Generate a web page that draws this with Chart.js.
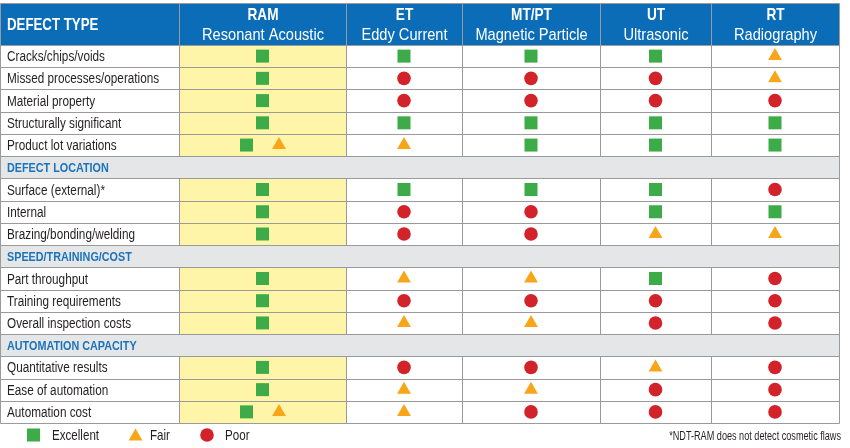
<!DOCTYPE html>
<html>
<head>
<meta charset="utf-8">
<script src="https://cdn.jsdelivr.net/npm/chart.js@4/dist/chart.umd.min.js"></script>
<style>
  body { margin: 0; background: #fff; }
  #wrap { width: 850px; height: 448px; }
</style>
</head>
<body>
<div id="wrap"><canvas id="myChart" width="850" height="448"></canvas></div>
<script>
// rows of the table (section headers included)
const rowLabels = ['Cracks/chips/voids', 'Missed processes/operations', 'Material property',
    'Structurally significant', 'Product lot variations', 'DEFECT LOCATION',
    'Surface (external)*', 'Internal', 'Brazing/bonding/welding', 'SPEED/TRAINING/COST',
    'Part throughput', 'Training requirements', 'Overall inspection costs',
    'AUTOMATION CAPACITY', 'Quantitative results', 'Ease of automation', 'Automation cost'];
const sectionRows = [5, 9, 13];
const headTitle = 'DEFECT TYPE';

const methods = ['RAM', 'ET', 'MT/PT', 'UT', 'RT'];
const methodNames = ['Resonant Acoustic', 'Eddy Current', 'Magnetic Particle', 'Ultrasonic', 'Radiography'];

// E = excellent, F = fair, P = poor, null = section row
const ram = ['E', 'E', 'E', 'E', 'EF', null, 'E', 'E', 'E', null, 'E', 'E', 'E', null, 'E', 'E', 'EF'];
const et  = ['E', 'P', 'P', 'E', 'F',  null, 'E', 'P', 'P', null, 'F', 'P', 'F', null, 'P', 'F', 'F'];
const mt  = ['E', 'P', 'P', 'E', 'E',  null, 'E', 'P', 'P', null, 'F', 'P', 'F', null, 'P', 'F', 'P'];
const ut  = ['E', 'P', 'P', 'E', 'E',  null, 'E', 'E', 'F', null, 'E', 'P', 'P', null, 'F', 'P', 'P'];
const rt  = ['F', 'F', 'P', 'E', 'E',  null, 'P', 'E', 'F', null, 'P', 'P', 'P', null, 'P', 'P', 'P'];
const ratings = [ram, et, mt, ut, rt];

const legendLabels = ['Excellent', 'Fair', 'Poor'];
const footnote = '*NDT-RAM does not detect cosmetic flaws';

// layout
const colWidths = [179, 167, 116, 138, 111, 128];
const colEdges = [0];
colWidths.forEach(w => colEdges.push(colEdges[colEdges.length - 1] + w));
const colCenter = i => (colEdges[i + 1] + colEdges[i + 2]) / 2;

const GREEN = '#3dab47', ORANGE = '#f9a51a', RED = '#d2232a';
const BLUE = '#0b6db7', TXT = '#231f20';
const FONT = "'Liberation Sans', Arial, sans-serif";

const pts = {E: [], F: [], P: []};
ratings.forEach((col, m) => {
    col.forEach((code, r) => {
        if (!code) return;
        const offs = code.length > 1 ? [-16, 16.5] : [0];
        code.split('').forEach((c, k) => pts[c].push({x: colCenter(m) + offs[k], y: r}));
    });
});

// squeezed text so Liberation Sans looks like a condensed face
function text(ctx, str, x, y, font, align, color, sx = 0.8) {
    ctx.save();
    ctx.font = font;
    ctx.fillStyle = color;
    ctx.textAlign = align;
    ctx.textBaseline = 'middle';
    ctx.translate(x, y);
    ctx.scale(sx, 1);
    ctx.fillText(str, 0, 0);
    ctx.restore();
}

const tablePlugin = {
    id: 'table',
    beforeDatasetsDraw(chart) {
        const {ctx, chartArea: a, scales: {x, y}} = chart;
        const band = Math.abs(y.getPixelForValue(1) - y.getPixelForValue(0));
        const ex = colEdges.map(v => Math.round(x.getPixelForValue(v)) + 0.5);
        const rowTop = r => Math.round(y.getPixelForValue(r) - band / 2) + 0.5;
        const headTop = 3.5;
        ctx.save();
        // yellow RAM column
        ctx.fillStyle = '#fff5a8';
        ctx.fillRect(ex[1], a.top, ex[2] - ex[1], a.bottom - a.top);
        // section rows
        ctx.fillStyle = '#e5e6e8';
        sectionRows.forEach(r => ctx.fillRect(ex[0], rowTop(r), ex[6] - ex[0], rowTop(r + 1) - rowTop(r)));
        // header
        ctx.fillStyle = BLUE;
        ctx.fillRect(ex[0], headTop, ex[6] - ex[0], a.top - headTop);

        // grid lines
        ctx.strokeStyle = '#9a9a9a';
        ctx.lineWidth = 1;
        ctx.beginPath();
        for (let r = 0; r <= rowLabels.length; r++) {
            const yy = r === 0 ? Math.round(a.top) + 0.5 : rowTop(r);
            ctx.moveTo(ex[0], yy); ctx.lineTo(ex[6], yy);
        }
        ctx.moveTo(ex[0], headTop); ctx.lineTo(ex[6], headTop);
        ex.forEach((xx, i) => {
            ctx.moveTo(xx, headTop); ctx.lineTo(xx, Math.round(a.top) + 0.5);
            if (i === 0 || i === 6) { ctx.moveTo(xx, a.top); ctx.lineTo(xx, rowTop(rowLabels.length)); return; }
            let start = 0;
            sectionRows.concat([rowLabels.length]).forEach(s => {
                ctx.moveTo(xx, rowTop(start)); ctx.lineTo(xx, rowTop(s));
                start = s + 1;
            });
        });
        ctx.stroke();
        ctx.restore();

        // header text
        text(ctx, headTitle, 7, 25, 'bold 17px ' + FONT, 'left', '#fff', 0.78);
        methods.forEach((m, i) => {
            const cx = (ex[i + 1] + ex[i + 2]) / 2;
            text(ctx, m, cx, 15, 'bold 17px ' + FONT, 'center', '#fff');
            text(ctx, methodNames[i], cx, 35, '17px ' + FONT, 'center', '#fff', 0.86);
        });

        // row labels
        rowLabels.forEach((lab, r) => {
            const yy = y.getPixelForValue(r) + 1;
            if (sectionRows.includes(r)) {
                text(ctx, lab, 7, yy, 'bold 13.5px ' + FONT, 'left', '#1a73bb');
            } else {
                text(ctx, lab, 7, yy, '14.7px ' + FONT, 'left', TXT);
            }
        });

        // legend + footnote
        const ly = 435;
        const marks = [
            {style: 'rect', r: 9.2, color: GREEN, mx: 33.5, tx: 52},
            {style: 'triangle', r: 8, color: ORANGE, mx: 135.5, tx: 150},
            {style: 'circle', r: 6.8, color: RED, mx: 207, tx: 225}
        ];
        marks.forEach((mk, i) => {
            ctx.save();
            ctx.fillStyle = mk.color;
            ctx.strokeStyle = mk.color;
            Chart.helpers.drawPoint(ctx, {pointStyle: mk.style, radius: mk.r, borderWidth: 0},
                mk.mx, mk.style === 'triangle' ? ly + 1.5 : ly);
            ctx.restore();
            text(ctx, legendLabels[i], mk.tx, ly + 1, '14.5px ' + FONT, 'left', TXT);
        });
        text(ctx, footnote, 841, 437, '12px ' + FONT, 'right', TXT, 0.76);
    }
};

const ctx = document.getElementById('myChart').getContext('2d');
const myChart = new Chart(ctx, {
    type: 'scatter',
    data: {
        datasets: [
            {label: legendLabels[0], data: pts.E, pointStyle: 'rect', pointRadius: 9.2,
             backgroundColor: GREEN, borderColor: GREEN, borderWidth: 0},
            {label: legendLabels[1], data: pts.F, pointStyle: 'triangle', pointRadius: 8,
             backgroundColor: ORANGE, borderColor: ORANGE, borderWidth: 0},
            {label: legendLabels[2], data: pts.P, pointStyle: 'circle', pointRadius: 6.8,
             backgroundColor: RED, borderColor: RED, borderWidth: 0}
        ]
    },
    options: {
        responsive: false,
        animation: false,
        layout: {autoPadding: false, padding: {left: 0, top: 45, right: 11, bottom: 25}},
        scales: {
            x: {type: 'linear', display: false, min: 0, max: colEdges[colEdges.length - 1]},
            y: {type: 'linear', display: false, min: -0.5, max: rowLabels.length - 0.5, reverse: true}
        },
        plugins: {
            legend: {display: false},
            tooltip: {enabled: false}
        }
    },
    plugins: [tablePlugin]
});
</script>
</body>
</html>
